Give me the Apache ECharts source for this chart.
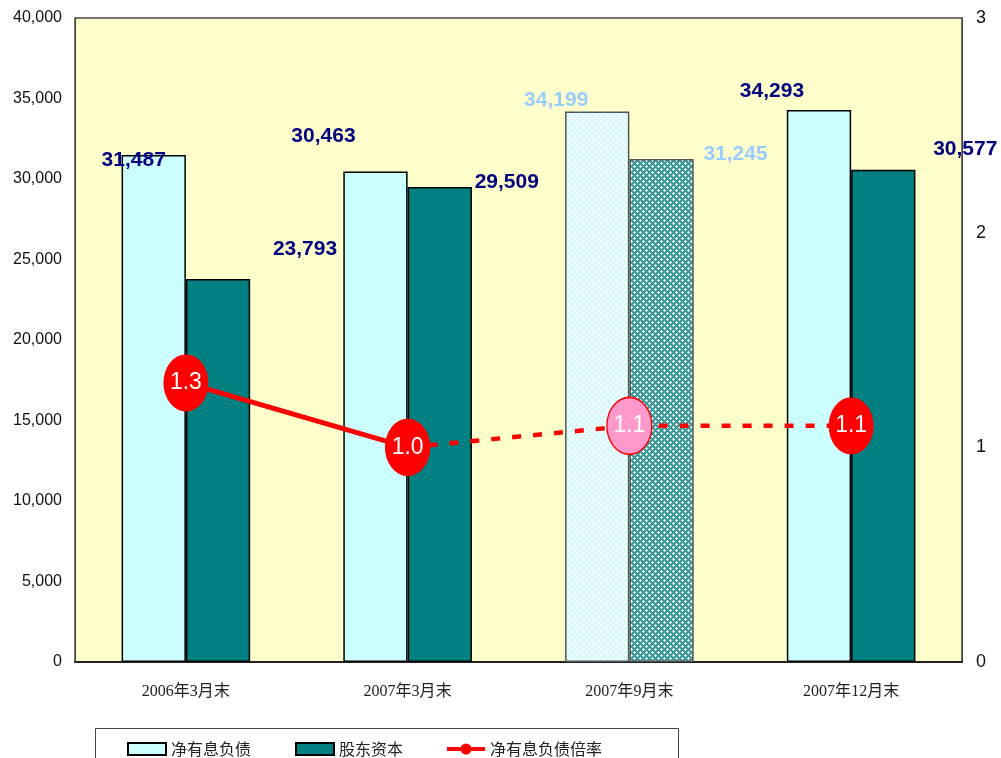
<!DOCTYPE html>
<html>
<head>
<meta charset="utf-8">
<script src="https://cdn.jsdelivr.net/npm/echarts@6/dist/echarts.min.js"></script>
<style>
  html, body { margin: 0; padding: 0; background: #fff; }
  #main { width: 1001px; height: 758px; }
</style>
</head>
<body>
<div id="main"></div>
<script>
// 数据
let categories = ['2006年3月末', '2007年3月末', '2007年9月末', '2007年12月末']
let debt = [31487, 30463, 34199, 34293]      // 净有息负债
let equity = [23793, 29509, 31245, 30577]    // 股东资本
let ratio = [1.3, 1.0, 1.1, 1.1]             // 净有息负债倍率
let leftAxis = { min: 0, max: 40000, interval: 5000 }
let rightAxis = { min: 0, max: 3, interval: 1 }

// 2007年9月末 是预估, 用花纹填充
let estIndex = 2

// 标签的偏移 (参照原图)
let debtLabelOffset = [[-20, 21], [-52, -20], [-41, 4], [-47, -3]]
let equityLabelOffset = [[87, -14], [67, 11], [74, 11], [82, -5]]

function makePattern(bg, dot) {
    let c = document.createElement('canvas')
    c.width = 6
    c.height = 6
    let ctx = c.getContext('2d')
    ctx.fillStyle = bg
    ctx.fillRect(0, 0, 6, 6)
    ctx.fillStyle = dot
    ctx.fillRect(1, 0, 1, 3)
    ctx.fillRect(0, 1, 3, 1)
    ctx.fillRect(4, 3, 1, 3)
    ctx.fillRect(3, 4, 3, 1)
    return c
}
let lightPattern = makePattern('#d8fafa', '#ffffff')
let tealPattern = makePattern('#3a9a9a', '#f0fafa')

let labelFont = '"Liberation Sans Narrow", "Liberation Sans", Arial, sans-serif'

function barData(values, color, pattern, offsets) {
    return values.map(function (v, i) {
        let est = i == estIndex
        return {
            value: v,
            itemStyle: est ? {
                color: { image: pattern, repeat: 'repeat' },
                borderColor: '#555'
            } : { color: color },
            label: {
                offset: offsets[i],
                color: est ? '#99ccff' : '#000080'
            }
        }
    })
}

let ellipse = 'path://M0,50 A50,50 0 1,1 100,50 A50,50 0 1,1 0,50 Z'

function lineData(from, to) {
    return ratio.map(function (v, i) {
        if (i < from || i > to) return null
        if (i == estIndex) {
            return {
                value: v,
                itemStyle: { color: '#ff99cc', borderColor: '#ff0000', borderWidth: 1.5 }
            }
        }
        return v
    })
}

let myChart = echarts.init(document.getElementById('main'))
let option = {
    backgroundColor: '#fff',
    animation: false,
    grid: {
        left: 75, right: 39, top: 18, bottom: 96,
        show: true,
        backgroundColor: '#ffffcc',
        borderColor: '#444',
        borderWidth: 1.5
    },
    legend: {
        left: 122, top: 736,
        itemWidth: 38, itemHeight: 12,
        itemGap: 44,
        textStyle: { fontSize: 16, color: '#222', fontFamily: '"Noto Sans CJK SC", sans-serif' },
        data: [
            { name: '净有息负债', icon: 'rect' },
            { name: '股东资本', icon: 'rect' },
            { name: '净有息负债倍率', icon: 'path://M0,4 H38 V8 H0 Z M19,0.5 A5.5,5.5 0 1,1 19,11.5 A5.5,5.5 0 1,1 19,0.5 Z' }
        ]
    },
    graphic: [{
        type: 'rect',
        left: 95, top: 728,
        shape: { width: 583, height: 40 },
        style: { fill: '#fff', stroke: '#444', lineWidth: 1 },
        z: -1
    }],
    xAxis: {
        type: 'category',
        data: categories,
        axisLine: { lineStyle: { color: '#222', width: 2 } },
        axisTick: { inside: true, length: 7, lineStyle: { color: '#222' } },
        axisLabel: {
            margin: 22, fontSize: 16, color: '#222',
            fontFamily: '"Liberation Serif", "Noto Sans CJK SC", serif'
        }
    },
    yAxis: [{
        type: 'value',
        min: leftAxis.min, max: leftAxis.max, interval: leftAxis.interval,
        splitLine: { show: false },
        axisLine: { show: true, lineStyle: { color: '#444' } },
        axisTick: { show: false },
        axisLabel: {
            margin: 13, fontSize: 16, color: '#111',
            fontFamily: '"Liberation Sans", Arial, sans-serif',
            formatter: function (v) { return v.toLocaleString('en-US') }
        }
    }, {
        type: 'value',
        min: rightAxis.min, max: rightAxis.max, interval: rightAxis.interval,
        splitLine: { show: false },
        axisLine: { show: true, lineStyle: { color: '#444' } },
        axisTick: { show: false },
        axisLabel: {
            margin: 14, fontSize: 18, color: '#111',
            fontFamily: '"Liberation Sans", Arial, sans-serif'
        }
    }],
    series: [{
        name: '净有息负债',
        type: 'bar',
        barGap: 0,
        barCategoryGap: '42%',
        itemStyle: { color: '#ccffff', borderColor: '#000', borderWidth: 1.5 },
        label: {
            show: true, position: 'top', fontSize: 21, fontWeight: 'bold',
            fontFamily: labelFont,
            formatter: function (p) { return p.value.toLocaleString('en-US') }
        },
        data: barData(debt, '#ccffff', lightPattern, debtLabelOffset)
    }, {
        name: '股东资本',
        type: 'bar',
        itemStyle: { color: '#008080', borderColor: '#000', borderWidth: 1.5 },
        label: {
            show: true, position: 'top', fontSize: 21, fontWeight: 'bold',
            fontFamily: labelFont,
            formatter: function (p) { return p.value.toLocaleString('en-US') }
        },
        data: barData(equity, '#008080', tealPattern, equityLabelOffset)
    }, {
        name: '净有息负债倍率',
        type: 'line',
        yAxisIndex: 1,
        z: 5,
        symbol: ellipse,
        symbolSize: [45, 57],
        lineStyle: { color: '#ff0000', width: 5 },
        itemStyle: { color: '#ff0000' },
        label: {
            show: true, position: 'inside', color: '#fff', fontSize: 23,
            fontFamily: labelFont,
            formatter: function (p) { return Number(p.value).toFixed(1) }
        },
        data: lineData(0, 1)
    }, {
        name: '净有息负债倍率',
        type: 'line',
        yAxisIndex: 1,
        z: 4,
        symbol: ellipse,
        symbolSize: [45, 57],
        lineStyle: { color: '#ff0000', width: 4.5, type: [9, 12] },
        itemStyle: { color: '#ff0000' },
        label: {
            show: true, position: 'inside', color: '#fff', fontSize: 23,
            fontFamily: labelFont,
            formatter: function (p) { return Number(p.value).toFixed(1) }
        },
        data: lineData(1, 3)
    }]
}
myChart.setOption(option)
</script>
</body>
</html>
